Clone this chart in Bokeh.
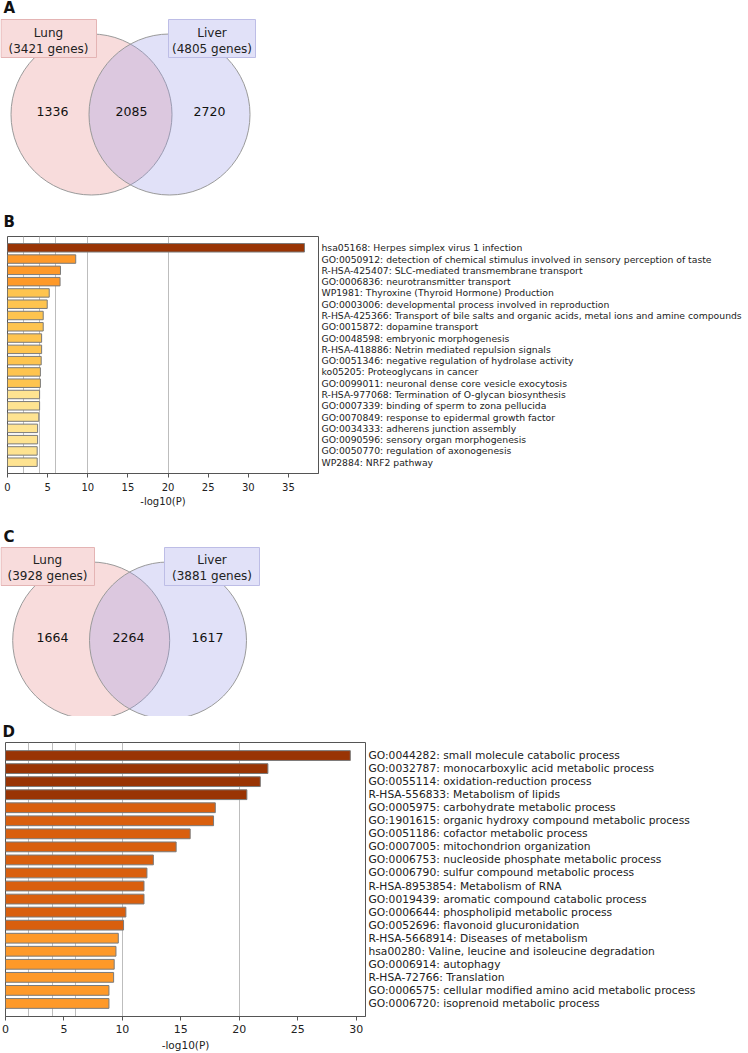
from bokeh.plotting import figure
from bokeh.layouts import column
from bokeh.models import (Range1d, FactorRange, FixedTicker, SingleIntervalTicker,
                          ColumnDataSource)
from bokeh.core.properties import value
from bokeh.embed import file_html
from bokeh.resources import INLINE

FONT = "DejaVu Sans"

# ---------------- data ----------------
set_names = ["Lung", "Liver"]
venn_a_sizes = [3421, 4805]
venn_a_regions = [1336, 2085, 2720]      # lung only, both, liver only
venn_c_sizes = [3928, 3881]
venn_c_regions = [1664, 2264, 1617]

b_terms = [
    "hsa05168: Herpes simplex virus 1 infection",
    "GO:0050912: detection of chemical stimulus involved in sensory perception of taste",
    "R-HSA-425407: SLC-mediated transmembrane transport",
    "GO:0006836: neurotransmitter transport",
    "WP1981: Thyroxine (Thyroid Hormone) Production",
    "GO:0003006: developmental process involved in reproduction",
    "R-HSA-425366: Transport of bile salts and organic acids, metal ions and amine compounds",
    "GO:0015872: dopamine transport",
    "GO:0048598: embryonic morphogenesis",
    "R-HSA-418886: Netrin mediated repulsion signals",
    "GO:0051346: negative regulation of hydrolase activity",
    "ko05205: Proteoglycans in cancer",
    "GO:0099011: neuronal dense core vesicle exocytosis",
    "R-HSA-977068: Termination of O-glycan biosynthesis",
    "GO:0007339: binding of sperm to zona pellucida",
    "GO:0070849: response to epidermal growth factor",
    "GO:0034333: adherens junction assembly",
    "GO:0090596: sensory organ morphogenesis",
    "GO:0050770: regulation of axonogenesis",
    "WP2884: NRF2 pathway",
]
b_values = [37.0, 8.5, 6.6, 6.55, 5.2, 4.95, 4.45, 4.45, 4.25, 4.25,
            4.2, 4.1, 4.1, 4.0, 4.0, 3.9, 3.75, 3.75, 3.7, 3.7]
b_tiers = [0, 2, 2, 2, 3, 3, 3, 3, 3, 3, 3, 3, 3, 4, 4, 4, 4, 4, 4, 4]

d_terms = [
    "GO:0044282: small molecule catabolic process",
    "GO:0032787: monocarboxylic acid metabolic process",
    "GO:0055114: oxidation-reduction process",
    "R-HSA-556833: Metabolism of lipids",
    "GO:0005975: carbohydrate metabolic process",
    "GO:1901615: organic hydroxy compound metabolic process",
    "GO:0051186: cofactor metabolic process",
    "GO:0007005: mitochondrion organization",
    "GO:0006753: nucleoside phosphate metabolic process",
    "GO:0006790: sulfur compound metabolic process",
    "R-HSA-8953854: Metabolism of RNA",
    "GO:0019439: aromatic compound catabolic process",
    "GO:0006644: phospholipid metabolic process",
    "GO:0052696: flavonoid glucuronidation",
    "R-HSA-5668914: Diseases of metabolism",
    "hsa00280: Valine, leucine and isoleucine degradation",
    "GO:0006914: autophagy",
    "R-HSA-72766: Translation",
    "GO:0006575: cellular modified amino acid metabolic process",
    "GO:0006720: isoprenoid metabolic process",
]
d_values = [29.5, 22.45, 21.8, 20.65, 17.95, 17.8, 15.8, 14.6, 12.65, 12.1,
            11.85, 11.85, 10.3, 10.1, 9.65, 9.45, 9.3, 9.25, 8.85, 8.85]
d_tiers = [0, 0, 0, 0, 1, 1, 1, 1, 1, 1, 1, 1, 1, 1, 2, 2, 2, 2, 2, 2]

x_ticks_interval = 5
grid_ticks = [2, 4, 6, 10, 20]
PALETTE = ["#993404", "#d95f0e", "#fe9929", "#fec44f", "#fee391"]

W = 748

# layout geometry of the two Venn panels (pixel positions, not data)
GEOM_A = dict(top=0, height=203, letter_y=-2, cx=[91, 169], cy=114, r=80.5,
              box_top=19, box_l=[0.5, 168], box_r=[96, 255], text_dy=[13, 29],
              txt_x=[48, 211.5], num_x=[52, 131, 209], num_y=111)
GEOM_C = dict(top=510, height=206, letter_y=527, cx=[90.7, 167.5], cy=640, r=78.5,
              box_top=547, box_l=[0.5, 164], box_r=[94, 259], text_dy=[12, 28],
              txt_x=[47, 211.5], num_x=[52, 128, 207], num_y=637)


def venn_panel(letter, sizes, regions, g):
    top, h = g["top"], g["height"]
    p = figure(width=W, height=h, x_range=Range1d(0, W),
               y_range=Range1d(top + h, top),
               output_backend="svg", toolbar_location=None, min_border=0)
    p.frame_align = False
    p.axis.visible = False
    p.grid.visible = False
    p.outline_line_color = None

    p.circle(x=g["cx"], y=[g["cy"]] * 2, radius=g["r"],
             fill_color=["#e88a8a", "#9a9ae8"], fill_alpha=0.3,
             line_color="#9a9a9a", line_width=1)
    bt = g["box_top"]
    p.quad(left=g["box_l"], right=g["box_r"], top=[bt, bt],
           bottom=[bt + 38, bt + 38],
           fill_color=["#f8dcdc", "#e1e1f8"],
           line_color=["#e4b4b4", "#bdbde6"], line_width=1)
    p.text(x=g["txt_x"], y=[bt + g["text_dy"][0]] * 2, text=set_names,
           text_font=value(FONT), text_font_size="12px", text_color="#222222",
           text_align="center", text_baseline="middle")
    p.text(x=g["txt_x"], y=[bt + g["text_dy"][1]] * 2,
           text=["(%d genes)" % s for s in sizes],
           text_font=value(FONT), text_font_size="12px", text_color="#222222",
           text_align="center", text_baseline="middle")
    p.text(x=g["num_x"], y=[g["num_y"]] * 3, text=[str(v) for v in regions],
           text_font=value(FONT), text_font_size="12.5px", text_color="#111111",
           text_align="center", text_baseline="middle")
    p.text(x=[3], y=[g["letter_y"]], text=[letter], text_font=value(FONT),
           text_font_size="15px", text_font_style="bold", text_color="#111111",
           text_align="left", text_baseline="top")
    return p


def bar_panel(letter, terms, values, tiers, xmax, height, mb_top, mb_bottom,
              mb_left, mb_right, label_size, tick_size, axis_size,
              title_standoff, title_offset, tick_standoff, axis_standoff):
    src = ColumnDataSource(dict(term=terms, val=values,
                                color=[PALETTE[t] for t in tiers]))
    p = figure(width=W, height=height,
               y_range=FactorRange(factors=list(reversed(terms)),
                                   range_padding=0.5,
                                   range_padding_units="absolute"),
               x_range=Range1d(0, xmax), y_axis_location="right",
               output_backend="svg", toolbar_location=None,
               min_border_top=mb_top, min_border_bottom=mb_bottom,
               min_border_left=mb_left, min_border_right=mb_right)
    p.frame_align = False
    p.hbar(y="term", left=0, right="val", height=0.75, fill_color="color",
           line_color="#7a7a7a", line_width=1, source=src)

    p.title.text = letter
    p.title.text_font = FONT
    p.title.text_font_size = "15px"
    p.title.text_font_style = "bold"
    p.title.text_color = "#111111"
    p.title.align = "left"
    p.title.standoff = title_standoff
    p.title.offset = title_offset

    p.outline_line_color = "#555555"
    p.outline_line_width = 1

    xa = p.xaxis[0]
    xa.ticker = SingleIntervalTicker(interval=x_ticks_interval, num_minor_ticks=0)
    xa.axis_label = "-log10(P)"
    xa.axis_label_text_font = FONT
    xa.axis_label_text_font_style = "normal"
    xa.axis_label_text_font_size = axis_size
    xa.axis_label_text_color = "#222222"
    xa.axis_label_standoff = axis_standoff
    xa.major_label_text_font = FONT
    xa.major_label_text_font_size = tick_size
    xa.major_label_text_color = "#222222"
    xa.major_label_standoff = tick_standoff
    xa.major_tick_out = 4
    xa.major_tick_in = 0
    xa.minor_tick_line_color = None
    xa.axis_line_color = "#555555"
    xa.major_tick_line_color = "#555555"

    ya = p.yaxis[0]
    ya.axis_line_color = None
    ya.major_tick_line_color = None
    ya.major_tick_out = 0
    ya.major_tick_in = 0
    ya.major_label_standoff = 3
    ya.major_label_text_font = FONT
    ya.major_label_text_font_size = label_size
    ya.major_label_text_color = "#222222"

    p.xgrid.ticker = FixedTicker(ticks=grid_ticks)
    p.xgrid.grid_line_color = "#bdbdbd"
    p.xgrid.grid_line_width = 1
    p.ygrid.visible = False
    return p


# Panel A  (page 0..203)
pa = venn_panel("A", venn_a_sizes, venn_a_regions, GEOM_A)

# Panel B  (page 203..510), frame 236..473, x 7..318
pb = bar_panel("B", b_terms, b_values, b_tiers, 38.75, height=307,
               mb_top=33, mb_bottom=37, mb_left=7, mb_right=W - 318,
               label_size="9.25px", tick_size="10px", axis_size="10px",
               title_standoff=12, title_offset=-4, tick_standoff=5, axis_standoff=2)

# Panel C  (page 510..716)
pc = venn_panel("C", venn_c_sizes, venn_c_regions, GEOM_C)

# Panel D  (page 716..1053), frame 742..1016, x 5..365
pd_ = bar_panel("D", d_terms, d_values, d_tiers, 30.8, height=337,
                mb_top=26, mb_bottom=37, mb_left=5, mb_right=W - 365,
                label_size="10.7px", tick_size="11px", axis_size="10.5px",
                title_standoff=4, title_offset=-3, tick_standoff=4, axis_standoff=3)

layout = column(pa, pb, pc, pd_, spacing=0)

with open("out.html", "w") as f:
    f.write(file_html(layout, INLINE))
